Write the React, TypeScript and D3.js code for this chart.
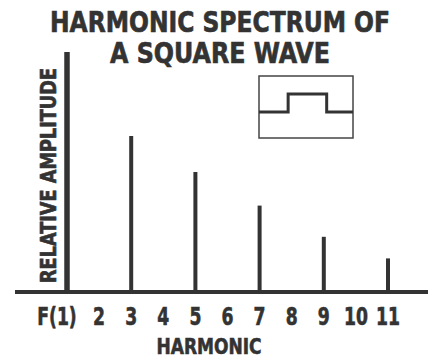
import React from "react";
import * as d3 from "d3";

// Odd harmonics of a square wave and their relative amplitudes
const harmonics = [1, 3, 5, 7, 9, 11];
const amplitudes = [1.0, 0.65, 0.5, 0.36, 0.23, 0.14];
const tickValues = [1, 2, 3, 4, 5, 6, 7, 8, 9, 10, 11];
const tickLabels = ["F(1)", "2", "3", "4", "5", "6", "7", "8", "9", "10", "11"];
// Inset: one period of a square wave (phase, level)
const waveX = [0, 0.31, 0.31, 0.72, 0.72, 1];
const waveY = [0, 0, 1, 1, 0, 0];

const W = 436;
const H = 358;
const INK = "#333";
const FONT = "'Liberation Sans Narrow', 'DejaVu Sans Condensed', 'Roboto', sans-serif";

export default function App() {
  const x = d3.scaleLinear().domain([1, 11]).range([67, 388]);
  const y = d3.scaleLinear().domain([0, 1]).range([292, 52]);

  const insetX = d3.scaleLinear().domain([0, 1]).range([259, 353]);
  const insetY = d3.scaleLinear().domain([0, 1]).range([112, 94]);
  const wavePath = d3
    .line<number>()
    .x((_, i) => insetX(waveX[i]))
    .y((d) => insetY(d))(waveY);

  return (
    <svg
      width={W}
      height={H}
      viewBox={`0 0 ${W} ${H}`}
      style={{ position: "absolute", left: 0, top: 0, background: "#fff" }}
    >
      <rect width={W} height={H} fill="#fff" />
      <g fontFamily={FONT} fontWeight="bold" fill={INK} stroke={INK} strokeWidth={0.6}>
        <text x={220} y={32} fontSize={27.5} textAnchor="middle" textLength={340} lengthAdjust="spacingAndGlyphs">
          HARMONIC SPECTRUM OF
        </text>
        <text x={220} y={63} fontSize={27.5} textAnchor="middle" textLength={220} lengthAdjust="spacingAndGlyphs">
          A SQUARE WAVE
        </text>
        <text
          transform="translate(55.5,175.5) rotate(-90)"
          fontSize={21}
          textAnchor="middle"
          textLength={215}
          lengthAdjust="spacingAndGlyphs"
        >
          RELATIVE AMPLITUDE
        </text>
        {tickValues.map((v, i) => (
          <text
            key={v}
            transform={`translate(${x(v) + (i === 0 ? -10 : 0)},325) scale(0.78,1)`}
            fontSize={24.5}
            textAnchor="middle"
          >
            {tickLabels[i]}
          </text>
        ))}
        <text x={209} y={354} fontSize={22} textAnchor="middle" textLength={105} lengthAdjust="spacingAndGlyphs">
          HARMONIC
        </text>
      </g>

      {/* baseline */}
      <line x1={15} x2={428} y1={y(0)} y2={y(0)} stroke={INK} strokeWidth={4} />

      {/* spectral lines */}
      {harmonics.map((h, i) => (
        <line
          key={h}
          x1={x(h)}
          x2={x(h)}
          y1={y(0)}
          y2={y(amplitudes[i])}
          stroke={INK}
          strokeWidth={i === 0 ? 5.5 : 4}
        />
      ))}

      {/* inset square wave */}
      <rect x={259} y={76} width={94} height={62} fill="none" stroke="#444" strokeWidth={1.5} />
      <path d={wavePath ?? ""} fill="none" stroke={INK} strokeWidth={3} />
    </svg>
  );
}
